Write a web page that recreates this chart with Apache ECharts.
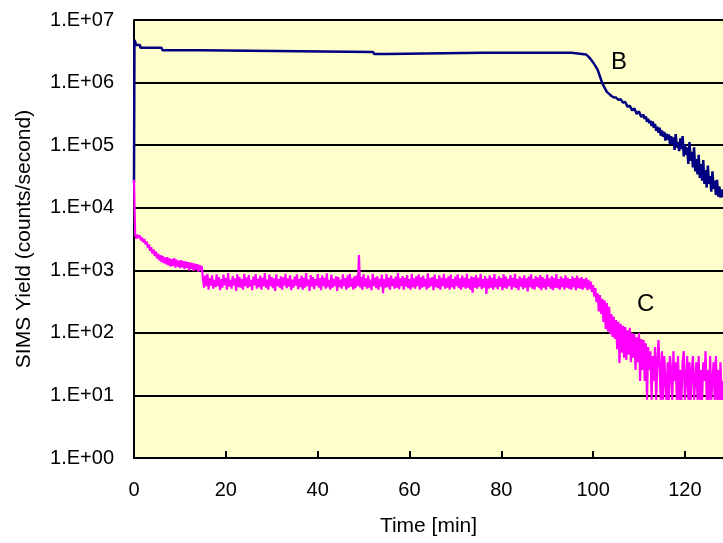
<!DOCTYPE html>
<html>
<head>
<meta charset="utf-8">
<script src="https://cdn.jsdelivr.net/npm/echarts@6/dist/echarts.min.js"></script>
<style>html,body{margin:0;padding:0;background:#fff;}#chart{width:723px;height:543px;}</style>
</head>
<body>
<div id="chart"></div>
<script>
// Tick labels
const xTicks = [0, 20, 40, 60, 80, 100, 120];
const yTickLabels = ['1.E+00','1.E+01','1.E+02','1.E+03','1.E+04','1.E+05','1.E+06','1.E+07'];

// Series B: [time (min), counts/second]
const seriesB = [
 [0,25000],[0.1,4800000],[0.3,4500000],[0.5,4000000],[1.3,4000000],[1.4,3600000],[6.0,3600000],[6.2,3300000],
 [14.3,3300000],[14.5,3080000],[52.1,3080000],[52.3,2860000],[55.0,2860000],[55.2,3050000],[76,3000000],
 [95.3,3000000],[95.5,2850000],[98.5,2800000],
 [99.0,2600000],[99.5,2350000],[100.0,2100000],[100.5,1850000],[101.0,1600000],[101.5,1250000],[102.0,980000],
 [102.5,830000],[103.0,710000],[103.5,660000],[104.0,610000],[104.5,580000],
 [105.0,575000],[105.5,530000],[106.0,543000],[106.5,480000],[107.0,490000],[107.5,410000],[108.0,427000],
 [108.5,360000],[109.0,386000],[109.5,315000],[110.0,346000],[110.5,282000],[111.0,306000],
 [111.25,262000],[111.5,288000],[111.75,236000],[112.0,264000],[112.25,225000],[112.5,244000],[112.75,203000],
 [113.0,238000],[113.25,190000],[113.5,219000],[113.75,170000],[114.0,196000],[114.25,158000],[114.5,190000],
 [114.75,142000],[115.0,172000],[115.25,136000],[115.5,163000],[115.75,118000],[116.0,152000],[116.25,122000],
 [116.5,148000],[116.75,104000],[117.0,139000],[117.25,101000],[117.5,133000],[117.75,84000],[118.0,150000],
 [118.25,92000],[118.5,112000],[118.75,80000],[119.0,128000],[119.25,86000],[119.5,140000],[119.75,66000],
 [120.0,104000],[120.25,70000],[120.5,92000],[120.75,50000],[121.0,112000],[121.25,56000],[121.5,78000],
 [121.75,44000],[122.0,92000],[122.25,38000],[122.5,60000],[122.75,34000],[123.0,70000],[123.25,30000],
 [123.5,50000],[123.75,27000],[124.0,58000],[124.25,24000],[124.5,40000],[124.75,21000],[125.0,47000],
 [125.25,24000],[125.5,32000],[125.75,18000],[126.0,38000],[126.25,20000],[126.5,27000],[126.75,16000],
 [127.0,28000],[127.25,15000],[127.5,22000],[127.75,14500],[128.0,19500],[128.25,15000],[128.5,15500]
];

// Series C: [time (min), counts/second]
const seriesC = [
 [0,28000],[0.25,3800],[0.5,3200],[0.75,3700],
 [1.0,3300],[1.25,3600],[1.5,3000],[1.75,3350],[2.0,2800],[2.25,3150],[2.5,2600],[2.75,2900],
 [3.0,2300],[3.25,2600],[3.5,2050],[3.75,2350],[4.0,1850],[4.25,2150],[4.5,1700],[4.75,2000],
 [5.0,1550],[5.25,1850],[5.5,1450],[5.75,1750],[6.0,1350],[6.25,1700],[6.5,1300],[6.75,1600],
 [7.0,1250],[7.25,1620],[7.5,1200],[7.75,1550],[8.0,1150],[8.25,1500],[8.5,1180],[8.75,1560],
 [9.0,1100],[9.25,1480],[9.5,1150],[9.75,1420],[10.0,1080],[10.25,1450],[10.5,1120],[10.75,1400],
 [11.0,1050],[11.25,1380],[11.5,1100],[11.75,1350],[12.0,1000],[12.25,1330],[12.5,1060],[12.75,1300],
 [13.0,980],[13.25,1280],[13.5,1020],[13.75,1250],[14.0,950],[14.25,1220],[14.5,990],[14.75,1180],
 [15.0,760],[15.25,530],[15.5,820],[15.75,560],[16.0,880],[16.25,490],[16.5,740],[16.75,570],
 [17.0,830],[17.25,510],[17.5,700],[17.75,540],[18.0,860],[18.25,560],[18.5,780],[18.75,480],
 [19.0,720],[19.25,530],[19.5,850],[19.75,580],[20.0,760],[20.25,490],[20.5,900],[20.75,550],
 [21.0,700],[21.25,510],[21.5,810],[21.75,570],[22.0,740],[22.25,470],[22.5,860],[22.75,540],
 [23.0,780],[23.25,530],[23.5,720],[23.75,490],[24.0,880],[24.25,560],[24.5,760],[24.75,520],
 [25.0,840],[25.25,550],[25.5,700],[25.75,480],[26.0,790],[26.25,580],[26.5,870],[26.75,510],
 [27.0,730],[27.25,540],[27.5,820],[27.75,490],[28.0,760],[28.25,560],[28.5,900],[28.75,530],
 [29.0,710],[29.25,490],[29.5,850],[29.75,560],[30.0,780],[30.25,520],[30.5,740],[30.75,470],
 [31.0,860],[31.25,560],[31.5,720],[31.75,530],[32.0,800],[32.25,490],[32.5,770],[32.75,570],
 [33.0,880],[33.25,520],[33.5,740],[33.75,550],[34.0,830],[34.25,480],[34.5,710],[34.75,530],
 [35.0,790],[35.25,570],[35.5,860],[35.75,500],[36.0,730],[36.25,540],[36.5,820],[36.75,490],
 [37.0,760],[37.25,530],[37.5,900],[37.75,560],[38.0,710],[38.25,470],[38.5,840],[38.75,550],
 [39.0,780],[39.25,500],[39.5,720],[39.75,570],[40.0,870],[40.25,530],[40.5,750],[40.75,480],
 [41.0,820],[41.25,560],[41.5,760],[41.75,510],[42.0,890],[42.25,540],[42.5,700],[42.75,490],
 [43.0,850],[43.25,530],[43.5,730],[43.75,560],[44.0,800],[44.25,470],[44.5,780],[44.75,540],
 [45.0,710],[45.25,510],[45.5,860],[45.75,560],[46.0,750],[46.25,490],[46.5,820],[46.75,530],
 [47.0,880],[47.25,550],[47.5,740],[47.75,490],[48.0,800],[48.25,520],[48.5,830],[48.75,560],
 [49.0,1750],[49.25,530],[49.5,780],[49.75,490],[50.0,860],[50.25,550],[50.5,740],[50.75,510],
 [51.0,820],[51.25,530],[51.5,710],[51.75,480],[52.0,880],[52.25,560],[52.5,760],[52.75,520],
 [53.0,800],[53.25,490],[53.5,730],[53.75,550],[54.0,850],[54.25,430],[54.5,720],[54.75,530],
 [55.0,870],[55.25,540],[55.5,760],[55.75,490],[56.0,820],[56.25,560],[56.5,730],[56.75,510],
 [57.0,790],[57.25,530],[57.5,900],[57.75,500],[58.0,740],[58.25,560],[58.5,810],[58.75,490],
 [59.0,760],[59.25,550],[59.5,840],[59.75,520],[60.0,720],[60.25,490],[60.5,880],[60.75,540],
 [61.0,740],[61.25,510],[61.5,800],[61.75,560],[62.0,860],[62.25,490],[62.5,770],[62.75,530],
 [63.0,820],[63.25,550],[63.5,730],[63.75,490],[64.0,890],[64.25,530],[64.5,750],[64.75,560],
 [65.0,780],[65.25,480],[65.5,850],[65.75,540],[66.0,720],[66.25,520],[66.5,830],[66.75,490],
 [67.0,760],[67.25,560],[67.5,880],[67.75,510],[68.0,740],[68.25,530],[68.5,800],[68.75,490],
 [69.0,850],[69.25,540],[69.5,720],[69.75,500],[70.0,790],[70.25,560],[70.5,860],[70.75,520],
 [71.0,740],[71.25,490],[71.5,820],[71.75,540],[72.0,760],[72.25,510],[72.5,880],[72.75,530],
 [73.0,730],[73.25,490],[73.5,800],[73.75,440],[74.0,770],[74.25,530],[74.5,840],[74.75,510],
 [75.0,760],[75.25,550],[75.5,880],[75.75,500],[76.0,720],[76.25,530],[76.5,810],[76.75,420],
 [77.0,740],[77.25,510],[77.5,830],[77.75,530],[78.0,760],[78.25,490],[78.5,870],[78.75,540],
 [79.0,720],[79.25,500],[79.5,800],[79.75,550],[80.0,750],[80.25,480],[80.5,860],[80.75,530],
 [81.0,790],[81.25,510],[81.5,730],[81.75,560],[82.0,840],[82.25,490],[82.5,760],[82.75,540],
 [83.0,880],[83.25,520],[83.5,720],[83.75,480],[84.0,800],[84.25,550],[84.5,750],[84.75,500],
 [85.0,830],[85.25,530],[85.5,740],[85.75,460],[86.0,790],[86.25,540],[86.5,860],[86.75,510],
 [87.0,720],[87.25,490],[87.5,810],[87.75,550],[88.0,760],[88.25,520],[88.5,840],[88.75,480],
 [89.0,780],[89.25,530],[89.5,730],[89.75,490],[90.0,850],[90.25,550],[90.5,740],[90.75,510],
 [91.0,810],[91.25,480],[91.5,760],[91.75,530],[92.0,870],[92.25,520],[92.5,720],[92.75,490],
 [93.0,790],[93.25,540],[93.5,740],[93.75,490],[94.0,830],[94.25,530],[94.5,760],[94.75,510],
 [95.0,720],[95.25,490],[95.5,800],[95.75,540],[96.0,750],[96.25,480],[96.5,820],[96.75,520],
 [97.0,740],[97.25,510],[97.5,780],[97.75,490],[98.0,720],[98.25,530],[98.5,760],[98.75,480],
 [99.0,700],[99.25,500],[99.5,660],[99.75,450],[100.0,580],[100.25,380],[100.5,520],[100.75,310],
 [101.0,430],[101.25,220],[101.5,400],[101.75,200],[102.0,350],[102.25,150],[102.5,330],[102.75,115],
 [103.0,300],[103.25,105],[103.5,260],[103.75,95],[104.0,200],[104.25,86],[104.5,180],[104.75,80],
 [105.0,160],[105.25,55],[105.5,150],[105.75,33],[106.0,140],[106.25,48],[106.5,130],[106.75,40],
 [107.0,124],[107.25,37],[107.5,110],[107.75,45],[108.0,120],[108.25,34],[108.5,100],[108.75,40],
 [109.0,95],[109.25,25.5],[109.5,85],[109.75,34],[110.0,99],[110.25,17],[110.5,80],[110.75,25.5],
 [111.0,77],[111.25,17],[111.5,68],[111.75,8.5],[112.0,59.5],[112.25,25.5],[112.5,51],[112.75,8.5],
 [113.0,42.5],[113.25,17],[113.5,59.5],[113.75,8.5],[114.0,34],[114.25,77],[114.5,25.5],[114.75,8.5],
 [115.0,51],[115.25,8.5],[115.5,42.5],[115.75,17],[116.0,8.5],[116.25,34],[116.5,8.5],[116.75,42.5],
 [117.0,25.5],[117.25,8.5],[117.5,51],[117.75,17],[118.0,34],[118.25,8.5],[118.5,42.5],[118.75,8.5],
 [119.0,25.5],[119.25,8.5],[119.5,34],[119.75,51],[120.0,8.5],[120.25,17],[120.5,42.5],[120.75,8.5],
 [121.0,34],[121.25,8.5],[121.5,25.5],[121.75,42.5],[122.0,8.5],[122.25,17],[122.5,34],[122.75,8.5],
 [123.0,42.5],[123.25,8.5],[123.5,25.5],[123.75,8.5],[124.0,34],[124.25,17],[124.5,51],[124.75,8.5],
 [125.0,25.5],[125.25,8.5],[125.5,42.5],[125.75,8.5],[126.0,17],[126.25,34],[126.5,8.5],[126.75,42.5],
 [127.0,8.5],[127.25,25.5],[127.5,8.5],[127.75,34],[128.0,8.5],[128.25,17],[128.5,8.5]
];

const FONT = '"Liberation Sans", Arial, sans-serif';
const chart = echarts.init(document.getElementById('chart'), null, {renderer: 'canvas'});
chart.setOption({
  animation: false,
  backgroundColor: '#ffffff',
  grid: {left: 134, right: 0, top: 20, bottom: 85, show: true, backgroundColor: '#FFFFCC', borderWidth: 0},
  xAxis: {
    type: 'value', min: 0, max: 128.3, interval: 20,
    name: 'Time [min]', nameLocation: 'middle', nameGap: 58,
    nameTextStyle: {color: '#000', fontSize: 21, fontFamily: FONT},
    axisLine: {show: true, lineStyle: {color: '#000', width: 2}},
    axisTick: {show: true, inside: true, length: 7, lineStyle: {color: '#000', width: 2}},
    axisLabel: {color: '#000', fontSize: 20, fontFamily: FONT, margin: 22, showMaxLabel: false,
      formatter: v => (xTicks.indexOf(v) >= 0 ? String(v) : '')},
    splitLine: {show: false}
  },
  yAxis: {
    type: 'log', logBase: 10, min: 1, max: 1e7,
    name: 'SIMS Yield (counts/second)', nameLocation: 'middle', nameGap: 99, nameRotate: 90,
    nameTextStyle: {color: '#000', fontSize: 21, fontFamily: FONT},
    axisLine: {show: true, lineStyle: {color: '#000', width: 2}},
    axisTick: {show: false},
    axisLabel: {color: '#000', fontSize: 20, fontFamily: FONT, margin: 20,
      formatter: v => yTickLabels[Math.round(Math.log10(v))]},
    splitLine: {show: true, lineStyle: {color: '#000', width: 2}}
  },
  series: [
    {name: 'B', type: 'line', data: seriesB, showSymbol: false, symbol: 'none',
     lineStyle: {color: '#000080', width: 2.5}, itemStyle: {color: '#000080'}},
    {name: 'C', type: 'line', data: seriesC, showSymbol: false, symbol: 'none',
     lineStyle: {color: '#FF00FF', width: 2.2}, itemStyle: {color: '#FF00FF'}}
  ],
  graphic: [
    {type: 'text', left: 611, top: 50, style: {text: 'B', fill: '#000', font: '24px ' + FONT}},
    {type: 'text', left: 637, top: 292, style: {text: 'C', fill: '#000', font: '24px ' + FONT}}
  ]
});
</script>
</body>
</html>
